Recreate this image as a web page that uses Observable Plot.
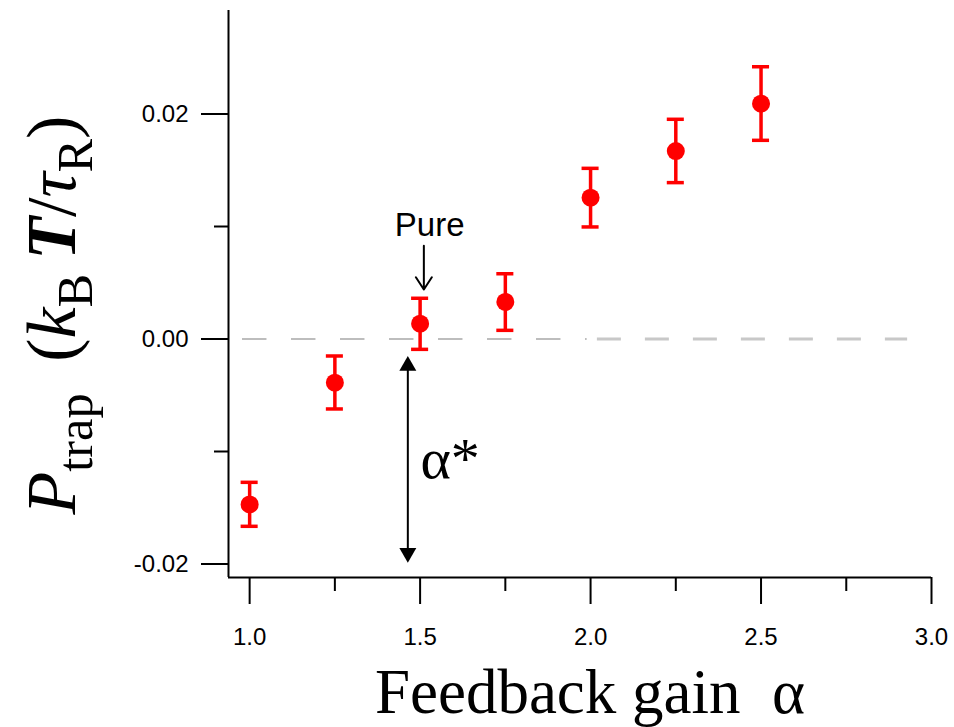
<!DOCTYPE html>
<html>
<head>
<meta charset="utf-8">
<script src="https://cdn.jsdelivr.net/npm/d3@7"></script>
<script src="https://cdn.jsdelivr.net/npm/@observablehq/plot@0.6"></script>
<style>
  html, body { margin: 0; padding: 0; background: #fff; }
  #chart svg { display: block; }
</style>
</head>
<body>
<div id="chart"></div>
<script>
// ---- data ----
const alphas   = [1.0, 1.25, 1.5, 1.75, 2.0, 2.25, 2.5];
const ptrap    = [-0.0147, -0.00388, 0.00136, 0.00329, 0.01256, 0.01671, 0.02092];
const errLow   = [-0.01665, -0.00622, -0.00092, 0.00077, 0.00996, 0.0139, 0.01766];
const errHigh  = [-0.01274, -0.00151, 0.00362, 0.0058, 0.01517, 0.01953, 0.0242];

const xDomain = [0.938, 3.0];
const yDomain = [-0.0212, 0.0292];
const xTicks = [1.0, 1.5, 2.0, 2.5, 3.0];
const xTickLabels = ["1.0", "1.5", "2.0", "2.5", "3.0"];
const xMinorTicks = [1.25, 1.75, 2.25, 2.75];
const yTicks = [-0.02, 0.0, 0.02];
const yTickLabels = ["-0.02", "0.00", "0.02"];
const yMinorTicks = [-0.01, 0.01];

const zeroThinX = [0.979, 1.99];
const zeroThickX = [2.02, 2.93];

const pureLabel = [{x: 1.528, y: 0.00916, text: "Pure"}];
const pureArrow = [{x: 1.511, y1: 0.0083, y2: 0.0044}];
const alphaArrow = [{x: 1.464, y1: -0.00151, y2: -0.01988}];
const alphaLabel = [{x: 1.501, y: -0.01236, text: "α*"}];

const xTitle = "Feedback gain\u00a0 α";
const yTitle = "Ptrap (kBT/τR)";

const points = alphas.map((a, i) => ({x: a, y: ptrap[i], lo: errLow[i], hi: errHigh[i]}));

const sans = "'Liberation Sans', Arial, sans-serif";
const serif = "'Liberation Serif', 'Times New Roman', serif";
const capHalf = 0.025;

const chart = Plot.plot({
  width: 954,
  height: 727,
  marginLeft: 228,
  marginRight: 23,
  marginTop: 10,
  marginBottom: 150,
  style: {background: "#fff", overflow: "visible"},
  x: {domain: xDomain},
  y: {domain: yDomain},
  marks: [
    // zero reference line (two dashed segments)
    Plot.ruleY([0], {x1: zeroThinX[0], x2: zeroThinX[1], stroke: "#a8a8a8", strokeWidth: 1.5, strokeDasharray: "24.5,24.5"}),
    Plot.ruleY([0], {x1: zeroThickX[0], x2: zeroThickX[1], stroke: "#c8c8c8", strokeWidth: 3, strokeDasharray: "24,24"}),
    // axes lines
    Plot.ruleX([xDomain[0]], {stroke: "#000", strokeWidth: 2}),
    Plot.ruleY([yDomain[0]], {stroke: "#000", strokeWidth: 2}),
    // axes
    Plot.axisY({ticks: yTicks, tickSize: 27, tickPadding: 13, tickFormat: (d) => yTickLabels[yTicks.indexOf(d)],
      fontSize: 24, fontFamily: sans, strokeWidth: 2, label: null}),
    Plot.axisY({ticks: yMinorTicks, tickSize: 14, tickFormat: () => "", strokeWidth: 2, label: null}),
    Plot.axisX({ticks: xTicks, tickSize: 27, tickPadding: 23, tickFormat: (d) => xTickLabels[xTicks.indexOf(d)],
      fontSize: 24, fontFamily: sans, strokeWidth: 2, label: null}),
    Plot.axisX({ticks: xMinorTicks, tickSize: 14, tickFormat: () => "", strokeWidth: 2, label: null}),
    // error bars
    Plot.ruleX(points, {x: "x", y1: "lo", y2: "hi", stroke: "#ff0000", strokeWidth: 3.5}),
    Plot.ruleY(points, {y: "hi", x1: d => d.x - capHalf, x2: d => d.x + capHalf, stroke: "#ff0000", strokeWidth: 3.5}),
    Plot.ruleY(points, {y: "lo", x1: d => d.x - capHalf, x2: d => d.x + capHalf, stroke: "#ff0000", strokeWidth: 3.5}),
    Plot.dot(points, {x: "x", y: "y", r: 9, fill: "#ff0000", stroke: "none"}),
    // annotations
    Plot.text(pureLabel, {x: "x", y: "y", text: "text", fontSize: 33, fontFamily: sans, lineAnchor: "bottom", fill: "#000"}),
    Plot.arrow(pureArrow, {x1: "x", x2: "x", y1: "y1", y2: "y2", stroke: "#000", strokeWidth: 2, headLength: 15, headAngle: 66}),
    Plot.ruleX(alphaArrow, {x: "x", y1: "y1", y2: "y2", stroke: "#000", strokeWidth: 2, insetTop: 8, insetBottom: 8}),
    Plot.dot(alphaArrow, {x: "x", y: "y1", symbol: "triangle", r: 6.3, fill: "#000", stroke: "none", dy: 9.8}),
    Plot.dot(alphaArrow, {x: "x", y: "y2", symbol: "triangle", r: 6.3, fill: "#000", stroke: "none", rotate: 180, dy: -9.8}),
    Plot.text(alphaLabel, {x: "x", y: "y", text: "text", fontSize: 58, fontFamily: serif, textAnchor: "start", lineAnchor: "bottom", fill: "#000"}),
    // titles
    Plot.text([xTitle], {frameAnchor: "bottom", text: d => d, dx: 10, dy: 135, lineAnchor: "bottom",
      fontSize: 63, fontFamily: serif, fill: "#000"}),
    Plot.text([yTitle], {frameAnchor: "left", text: d => d, dx: -154, dy: 21, rotate: -90, textAnchor: "middle", lineAnchor: "bottom",
      fontSize: 70, fontFamily: serif, fill: "#000"})
  ]
});

document.getElementById("chart").appendChild(chart);

// rich formatting of the y title: P_trap (k_B T / τ_R)
const yt = d3.select(chart).selectAll("text").filter(function() { return this.textContent === yTitle; });
if (!yt.empty()) {
  yt.text(null);
  const sub = 17;
  const parts = [
    {t: "P", italic: true},
    {t: "trap", size: "72%", dy: sub},
    {t: "\u00a0\u2009(", dy: -sub},
    {t: "k", italic: true},
    {t: "B", size: "72%", dy: sub},
    {t: "\u2009T", italic: true, bold: true, dy: -sub},
    {t: "/"},
    {t: "τ", italic: true},
    {t: "R", size: "72%", dy: sub},
    {t: ")", dy: -sub}
  ];
  for (const p of parts) {
    const ts = yt.append("tspan").text(p.t);
    if (p.italic) ts.attr("font-style", "italic");
    if (p.bold) ts.attr("font-weight", "bold");
    if (p.size) ts.attr("font-size", p.size);
    if (p.dy) ts.attr("dy", p.dy);
  }
}
</script>
</body>
</html>
